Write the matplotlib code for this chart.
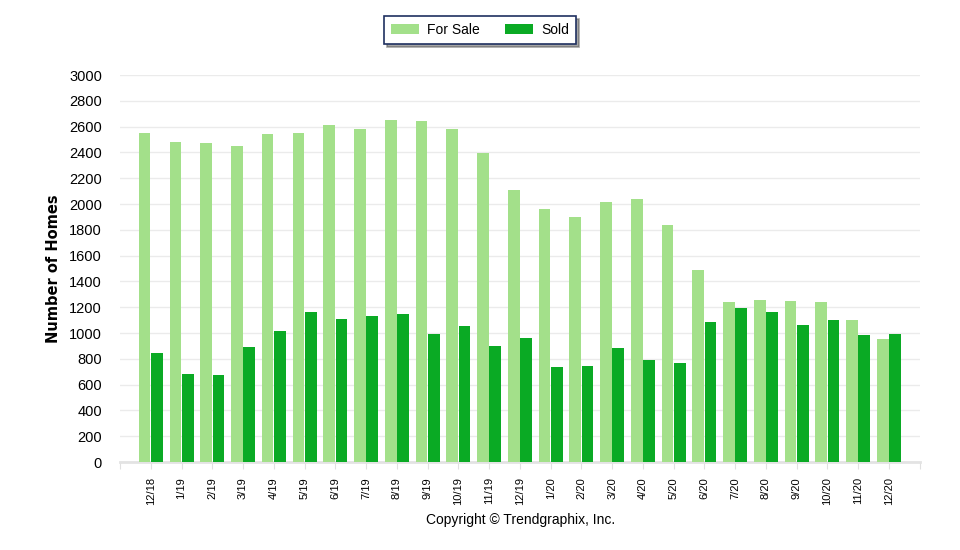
import matplotlib
matplotlib.use("Agg")
import matplotlib.pyplot as plt
import numpy as np

months = ["12/18", "1/19", "2/19", "3/19", "4/19", "5/19", "6/19", "7/19", "8/19",
          "9/19", "10/19", "11/19", "12/19", "1/20", "2/20", "3/20", "4/20", "5/20",
          "6/20", "7/20", "8/20", "9/20", "10/20", "11/20", "12/20"]
for_sale = [2552, 2481, 2473, 2450, 2543, 2551, 2613, 2582, 2652, 2644, 2582, 2396,
            2109, 1962, 1900, 2016, 2039, 1838, 1490, 1242, 1257, 1250, 1242, 1102, 956]
sold = [847, 684, 676, 893, 1017, 1164, 1110, 1133, 1149, 994, 1056, 901,
        963, 738, 746, 886, 793, 770, 1087, 1194, 1164, 1063, 1102, 987, 995]

LIGHT = "#A3E08A"
DARK = "#0AAA24"

plt.rcParams["font.family"] = ["Liberation Sans", "DejaVu Sans"]

fig = plt.figure(figsize=(9.6, 5.5), dpi=100)
ax = fig.add_axes([0.125, 0.16, 0.833, 0.7036])

x = np.arange(len(months))
ax.bar(x - 0.2, for_sale, width=0.38, color=LIGHT, label="For Sale", zorder=3)
ax.bar(x + 0.2, sold, width=0.38, color=DARK, label="Sold", zorder=3)

ax.set_xlim(-1, len(months))
ax.set_ylim(0, 3000)
ax.set_yticks(range(0, 3001, 200))
ax.yaxis.grid(True, color="#ebebeb", lw=1, zorder=0)
ax.set_axisbelow(True)

ax.set_xticks(np.arange(-1, len(months) + 1))
ax.set_xticklabels([""] + months + [""], rotation=90, fontsize=8)
ax.tick_params(axis="x", length=5, color="#e0e0e0", pad=6)
ax.tick_params(axis="y", length=0, labelsize=10.5, pad=13)

for s in ["top", "right", "left"]:
    ax.spines[s].set_visible(False)
ax.spines["bottom"].set_color("#e3e3e3")
ax.spines["bottom"].set_linewidth(2)

ax.set_ylabel("Number of Homes", fontsize=10.5, fontweight="bold",
              family=["DejaVu Sans"], labelpad=6)

leg = fig.legend(loc="upper center", bbox_to_anchor=(0.5, 0.983), ncol=2, fontsize=10,
                 frameon=True, fancybox=False, shadow=True, edgecolor="#1f3060",
                 handlelength=2.0, handleheight=0.75, columnspacing=1.8,
                 borderpad=0.5, handletextpad=0.6)
leg.get_frame().set_linewidth(1.2)

fig.text(0.542, 0.055, "Copyright \u00a9 Trendgraphix, Inc.", ha="center", va="center",
         fontsize=10)

fig.savefig("out.png", dpi=100)
